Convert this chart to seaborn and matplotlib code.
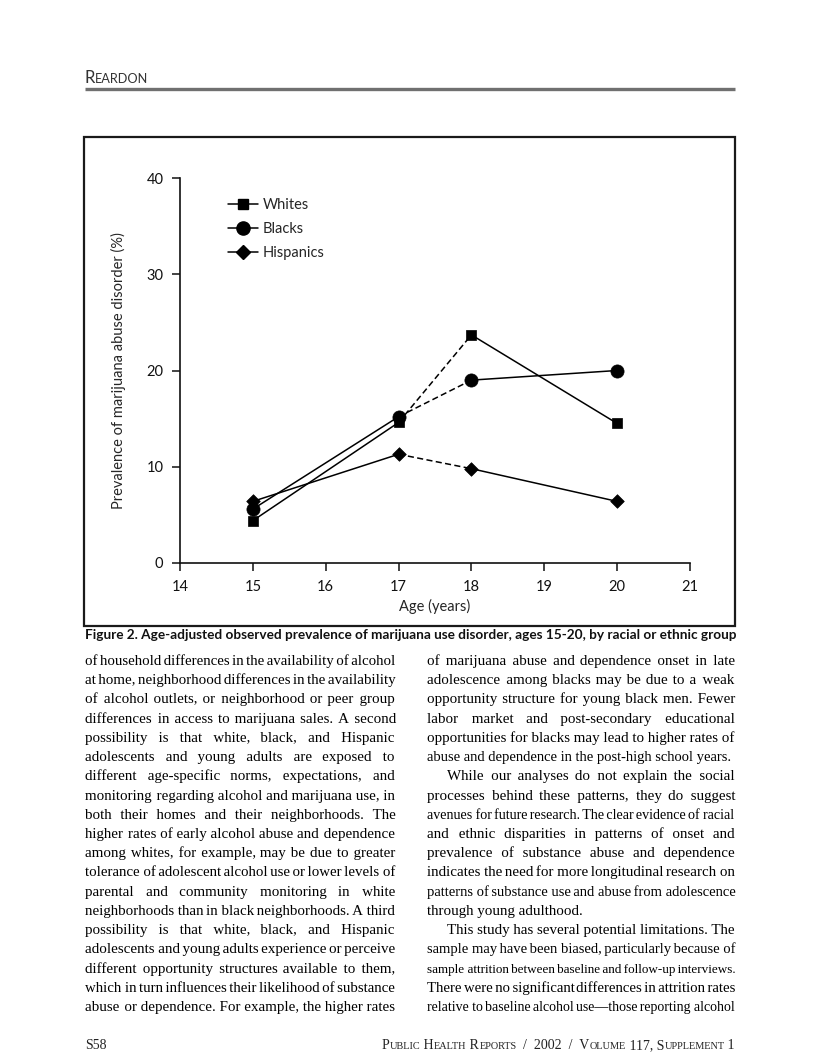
import numpy as np
import pandas as pd
import matplotlib
matplotlib.use("Agg")
import matplotlib.pyplot as plt
import seaborn as sns
from matplotlib.patches import Rectangle
from matplotlib.lines import Line2D

# chart data
ages = [15, 17, 18, 20]
whites = [4.4, 14.6, 23.7, 14.5]
blacks = [5.6, 15.2, 19.0, 20.0]
hispanics = [6.4, 11.3, 9.8, 6.4]
groups = ["Whites", "Blacks", "Hispanics"]
x_ticks = [14, 15, 16, 17, 18, 19, 20, 21]
y_ticks = [0, 10, 20, 30, 40]

caption = ("Figure 2. Age-adjusted observed prevalence of marijuana use disorder, "
           "ages 15-20, by racial or ethnic group")

# body text, line by line as printed (True = last line of a paragraph)
left_col = [
    ("of household differences in the availability of alcohol", False),
    ("at home, neighborhood differences in the availability", False),
    ("of alcohol outlets, or neighborhood or peer group", False),
    ("differences in access to marijuana sales. A second", False),
    ("possibility is that white, black, and Hispanic", False),
    ("adolescents and young adults are exposed to", False),
    ("different age-specific norms, expectations, and", False),
    ("monitoring regarding alcohol and marijuana use, in", False),
    ("both their homes and their neighborhoods. The", False),
    ("higher rates of early alcohol abuse and dependence", False),
    ("among whites, for example, may be due to greater", False),
    ("tolerance of adolescent alcohol use or lower levels of", False),
    ("parental and community monitoring in white", False),
    ("neighborhoods than in black neighborhoods. A third", False),
    ("possibility is that white, black, and Hispanic", False),
    ("adolescents and young adults experience or perceive", False),
    ("different opportunity structures available to them,", False),
    ("which in turn influences their likelihood of substance", False),
    ("abuse or dependence. For example, the higher rates", False),
]
right_col = [
    ("of marijuana abuse and dependence onset in late", False),
    ("adolescence among blacks may be due to a weak", False),
    ("opportunity structure for young black men. Fewer", False),
    ("labor market and post-secondary educational", False),
    ("opportunities for blacks may lead to higher rates of", False),
    ("abuse and dependence in the post-high school years.", True),
    ("While our analyses do not explain the social", False),
    ("processes behind these patterns, they do suggest", False),
    ("avenues for future research. The clear evidence of racial", False),
    ("and ethnic disparities in patterns of onset and", False),
    ("prevalence of substance abuse and dependence", False),
    ("indicates the need for more longitudinal research on", False),
    ("patterns of substance use and abuse from adolescence", False),
    ("through young adulthood.", True),
    ("This study has several potential limitations. The", False),
    ("sample may have been biased, particularly because of", False),
    ("sample attrition between baseline and follow-up interviews.", False),
    ("There were no significant differences in attrition rates", False),
    ("relative to baseline alcohol use\u2014those reporting alcohol", False),
]

SANS = "Lato"
SERIF = ["Liberation Serif", "DejaVu Serif"]
HAIR = "\u200a"

sns.set_style("ticks")
plt.rcParams["font.family"] = [SANS, "DejaVu Sans"]

fig = plt.figure(figsize=(8.16, 10.56), dpi=100)
renderer = fig.canvas.get_renderer()

# page overlay in pixel coordinates
page = fig.add_axes([0, 0, 1, 1])
page.set_xlim(0, 816)
page.set_ylim(1056, 0)
page.axis("off")


def width_of(s, size, family, weight="normal"):
    t = page.text(0, 0, s, fontsize=size, family=family, weight=weight)
    w = t.get_window_extent(renderer).width
    t.remove()
    return w


def small_caps(s, x, y, big, small, family, align="left", color="black"):
    pieces = []
    for ch in s:
        sz = small if ch.islower() else big
        txt = ch.upper()
        if pieces and pieces[-1][1] == sz:
            pieces[-1][0] += txt
        else:
            pieces.append([txt, sz])
    widths = [width_of(p, sz, family) for p, sz in pieces]
    if align == "right":
        x = x - sum(widths)
    for (p, sz), w in zip(pieces, widths):
        page.text(x, y, p, fontsize=sz, family=family, va="baseline", color=color)
        x += w


def join_with_hairs(words, n_hair, sep):
    n_gaps = len(words) - 1
    base, rem = divmod(n_hair, n_gaps)
    extra = set(np.linspace(0, n_gaps - 1, rem).round().astype(int)) if rem else set()
    parts = [words[0]]
    for i, w in enumerate(words[1:]):
        parts.append(sep + HAIR * (base + (1 if i in extra else 0)) + w)
    return "".join(parts)


def set_column(lines, x0, x1, y0, step, size, indent):
    # each printed line is one text; justification is done through the word gaps
    y = y0
    prev_end = False
    for text, last in lines:
        start = x0 + (indent if prev_end else 0)
        avail = x1 - start
        words = text.split(" ")
        n_gaps = len(words) - 1
        sz = size
        out = text
        hair = (width_of("a" + HAIR * 20 + "a", sz, SERIF) - width_of("aa", sz, SERIF)) / 20
        nat = width_of(text, sz, SERIF)
        if not last and n_gaps > 0:
            if nat <= avail:
                out = join_with_hairs(words, int(round((avail - nat) / hair)), " ")
            else:
                # tight line: narrow word spaces built from hair spaces only
                bare = width_of(join_with_hairs(words, 0, ""), sz, SERIF)
                min_gap = 2 * hair
                if bare + min_gap * n_gaps > avail:
                    sz = sz * avail / (bare + min_gap * n_gaps)
                    hair = hair * sz / size
                    bare = width_of(join_with_hairs(words, 0, ""), sz, SERIF)
                out = join_with_hairs(words, max(n_gaps, int(round((avail - bare) / hair))), "")
        elif nat > avail:
            sz = sz * avail / nat
        page.text(start, y, out, fontsize=sz, family=SERIF, va="baseline", color="black")
        prev_end = last
        y += step


# header
small_caps("Reardon", 85, 83, 12, 9.2, SANS, color="#333333")
page.plot([85, 735], [89, 89], color="#707070", lw=2.4, solid_capstyle="butt")

# figure frame
page.add_patch(Rectangle((84, 137), 651, 489, fill=False, ec="#1a1a1a", lw=1.6))

# caption fitted to the frame width
cap_w = width_of(caption, 10, SANS, "bold")
page.text(85, 639, caption, fontsize=10 * 650 / cap_w, family=SANS, weight="bold",
          va="baseline", color="#111111")

# body columns
set_column(left_col, 85, 395, 665, 19.22, 10.8, 20)
set_column(right_col, 427, 735, 665, 19.22, 10.8, 20)

# footer
page.text(85, 1049, "S58", fontsize=10, family=SERIF, va="baseline", color="#222222")
small_caps("Public Health Reports  /  2002  /  Volume 117, Supplement 1", 735, 1049,
           10, 7.4, SERIF, align="right", color="#222222")

# chart
ax = fig.add_axes([180 / 816, 1 - 563 / 1056, 510 / 816, 385 / 1056])
ax.patch.set_alpha(0)
df = pd.DataFrame({
    "age": ages * 3,
    "prev": whites + blacks + hispanics,
    "group": np.repeat(groups, len(ages)),
})

segments = [(0, 1, "-"), (1, 2, (0, (4, 2.2))), (2, 3, "-")]
for g in groups:
    sub = df[df["group"] == g].reset_index(drop=True)
    for a, b, ls in segments:
        sns.lineplot(data=sub.iloc[[a, b]], x="age", y="prev", color="black", lw=1.1,
                     linestyle=ls, ax=ax, legend=False, sort=False)

marker_map = {"Whites": ("s", 55), "Blacks": ("o", 90), "Hispanics": ("D", 48)}
for g in groups:
    m, s = marker_map[g]
    sns.scatterplot(data=df[df["group"] == g], x="age", y="prev", marker=m, s=s,
                    color="black", edgecolor="black", linewidth=0.5, ax=ax,
                    legend=False, zorder=3)

ax.set_xlim(14, 21)
ax.set_ylim(0, 40)
ax.set_xticks(x_ticks)
ax.set_yticks(y_ticks)
ax.tick_params(direction="out", length=6, width=1.1, labelsize=10.5, pad=6, colors="#111111")
sns.despine(ax=ax)
for sp in ["left", "bottom"]:
    ax.spines[sp].set_linewidth(1.2)
    ax.spines[sp].set_color("#111111")
ax.set_xlabel("Age (years)", fontsize=10.5, labelpad=4)
ax.set_ylabel("Prevalence of marijuana abuse disorder (%)", fontsize=10.5, labelpad=15)

handles = [Line2D([], [], color="black", lw=1.1, marker=marker_map[g][0],
                  markersize=np.sqrt(marker_map[g][1]), label=g) for g in groups]
ax.legend(handles=handles, loc="upper left", bbox_to_anchor=(0.095, 0.947), frameon=False,
          fontsize=10.5, handlelength=2.0, handletextpad=0.35, labelspacing=0.68,
          borderpad=0, borderaxespad=0, numpoints=1)

fig.savefig("out.png", dpi=100)
